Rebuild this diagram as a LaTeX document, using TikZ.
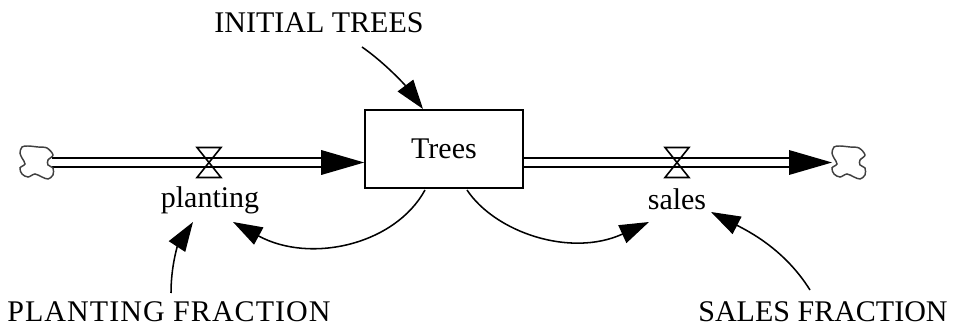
\documentclass[tikz,border=0pt]{standalone}
\usepackage{fontspec}
\setmainfont{Liberation Serif}
\usepackage{tikz}
\usetikzlibrary{arrows.meta}

\tikzset{
  lbl/.style={inner sep=0pt,anchor=base,font=\fontsize{22.5}{24}\selectfont},
  link/.style={line width=1.15pt,-{Triangle[length=22pt,width=14.5pt]}},
  pipe/.style={line width=1.15pt},
  pipehead/.style={fill=black,draw=none},
  cloudline/.pic={
    \draw [draw=black!75,line width=1.1pt] plot [smooth cycle,tension=0.55] coordinates {
      (2,0) (8,-1) (18,0) (27,1) (33,8) (28,13) (28,18) (33,21) (33,28) (28,32)
      (22,30) (15,27) (8,30) (2,27) (0,21) (5,17) (2,11) (0,6)};
  }
}

\begin{document}
\begin{tikzpicture}[x=0.75pt,y=-0.75pt,line width=1.15pt]
      \useasboundingbox (0,0) rectangle (958,327);

      \node [draw,rectangle,line width=1.2pt,minimum width=118.5pt,minimum height=58.5pt,inner sep=0pt,font=\fontsize{22.5}{24}\selectfont] (trees) at (444,149) {Trees};

      \node [lbl] (plantlbl) at (210,208) {planting};
      \node [lbl] (saleslbl) at (677,210) {sales};
      \node [lbl] (initlbl) at (319,33) {INITIAL TREES};
      \node [lbl] (pfraclbl) at (169,322) {\addfontfeatures{LetterSpace=3.5}PLANTING FRACTION};
      \node [lbl] (sfraclbl) at (823,322) {SALES FRACTION};

      \coordinate (cl1) at (52,162.5);
      \coordinate (cl2) at (832,162.5);
      \coordinate (pv) at (209,162.5);
      \coordinate (sv) at (677,162.5);
      \coordinate (ph) at (322,162.5);
      \coordinate (sh) at (789,162.5);

      % flows
      \draw [pipe] ([yshift=3.4pt]cl1) -- ([yshift=3.4pt]ph);
      \draw [pipe] ([yshift=-3.4pt]cl1) -- ([yshift=-3.4pt]ph);
      \fill [pipehead] (trees.west |- pv) -- ++(-43,-12.5) -- ++(0,25) -- cycle;
      \draw [pipe] ([yshift=3.4pt]trees.east |- sv) -- ([yshift=3.4pt]sh);
      \draw [pipe] ([yshift=-3.4pt]trees.east |- sv) -- ([yshift=-3.4pt]sh);
      \fill [pipehead] (cl2) -- ++(-43,-12.5) -- ++(0,25) -- cycle;

      % valves
      \foreach \v in {pv,sv} {
        \draw [line width=1.2pt] ([shift={(-12,-15)}]\v) -- ([shift={(12,-15)}]\v) -- ([shift={(-12,15)}]\v) -- ([shift={(12,15)}]\v) -- cycle;
      }

      % clouds
      \pic at (20,147) {cloudline};
      \pic at (832,147) {cloudline};

      % links
      \coordinate (initend) at (362,47);
      \coordinate (pfracend) at (171,293);
      \coordinate (sfracend) at (810,290);
      \coordinate (plantend) at (233,222);
      \coordinate (salesend) at (649,222);
      \coordinate (pfracout) at (193,222);
      \coordinate (sfracout) at (711,212);
      \coordinate (stockin) at (423,109);
      \coordinate (stockl) at (425,190);
      \coordinate (stockr) at (467,190);
      \draw [link] (initend) .. controls (385,63) and (405,85) .. (stockin);
      \draw [link] (stockl) .. controls (395,245) and (310,264) .. (plantend);
      \draw [link] (stockr) .. controls (495,232) and (570,258) .. (salesend);
      \draw [link] (pfracend) .. controls (171,265) and (178,245) .. (pfracout);
      \draw [link] (sfracend) .. controls (785,250) and (750,232) .. (sfracout);
\end{tikzpicture}
\end{document}
